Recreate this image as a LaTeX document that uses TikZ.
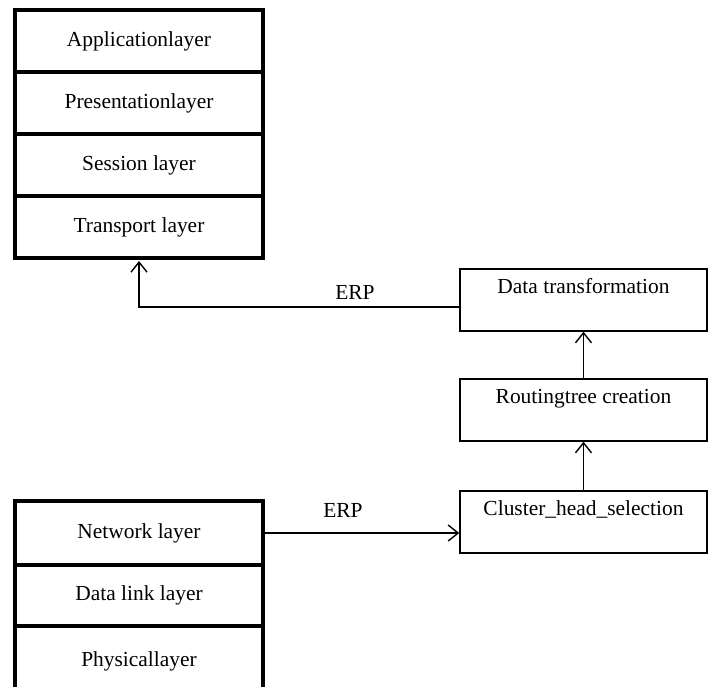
\documentclass[tikz,border=0pt]{standalone}
\usepackage{fontspec}
\setmainfont{Liberation Serif}
\usetikzlibrary{arrows.meta}

\begin{document}
\begin{tikzpicture}[
	layer/.style = {draw, line width = 2.3pt, outer sep = 0pt, inner sep = 0pt, minimum width = 4.96cm, minimum height = 1.24cm},
	stepbox/.style = {draw, line width = 0.8pt, minimum width = 4.94cm, inner xsep = 0pt, inner ysep = 0.1cm, text height = 0.38cm, text depth = 0.66cm},
	link/.style = {line width = 0.8pt, -{Straight Barb[length = 2mm, width = 3.2mm]}},
	font = \fontsize{12.2}{14}\selectfont]
		\useasboundingbox (0, 0) rectangle (14.24, -13.72);
		\clip (0, 0) rectangle (14.24, -13.72);
		%%%%%%%%%%%%%
		\node[layer] (al) at (2.78, -0.82) {Applicationlayer};
		\node[layer] (pr) at (2.78, -2.06) {Presentationlayer};
		\node[layer] (sl) at (2.78, -3.30) {Session layer};
		\node[layer] (tl) at (2.78, -4.54) {Transport layer};
		%%%%%%%%%%%%%
		\node[layer, minimum height = 1.28cm] (nl) at (2.78, -10.66) {Network layer};
		\node[layer, minimum height = 1.22cm] (dl) at (2.78, -11.91) {Data link layer};
		\node[layer, minimum height = 1.4cm] (pl) at (2.78, -13.22) {Physicallayer};
		%%%%%%%%%%%%%
		\node[stepbox] (dt) at (11.67, -6.0) {Data transformation};
		\node[stepbox] (rt) at (11.67, -8.2) {Routingtree creation};
		\node[stepbox] (ch) at (11.67, -10.44) {Cluster\_head\_selection};
		\node (erp1) at (7.1, -5.84) {ERP};
		\node (erp2) at (6.86, -10.2) {ERP};
		%%%%%%%%%%%%%%%%%%%%%%
		\draw[link, shorten > = 0.06cm] ([yshift = -0.14cm] dt.west) -| (tl.south);
		\draw[link] (nl.east) -- (nl.east -| ch.west);
		\draw[link] (ch.north) -- (rt.south); \draw[link] (rt.north) -- (dt.south);
\end{tikzpicture}
\end{document}
